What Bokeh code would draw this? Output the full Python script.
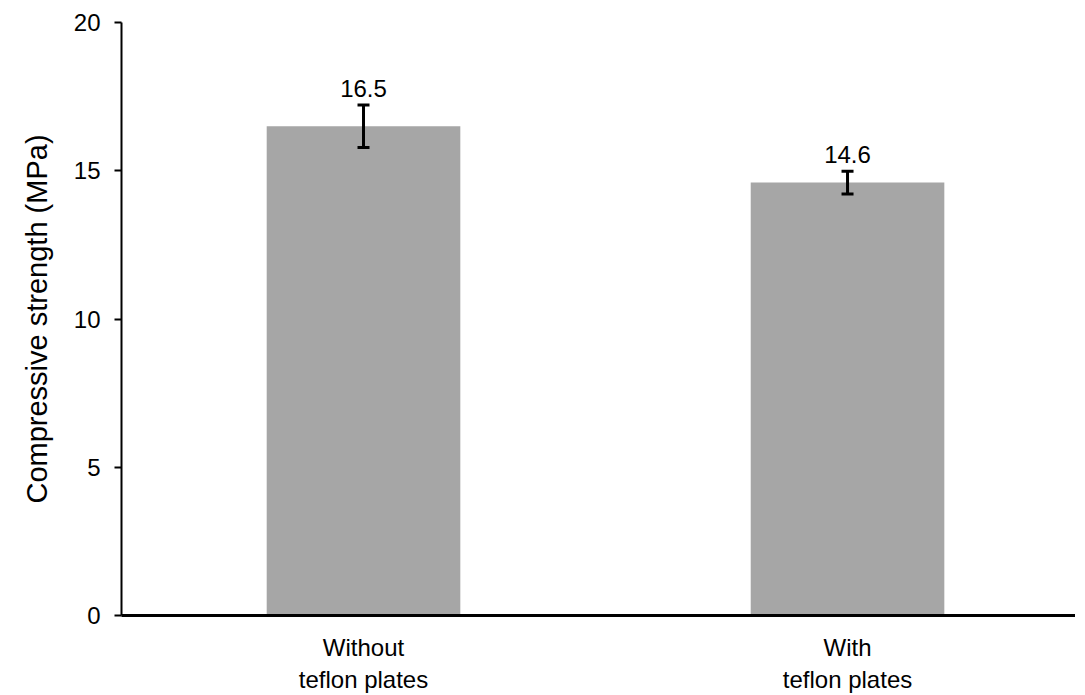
from bokeh.plotting import figure
from bokeh.models import ColumnDataSource, Range1d, FixedTicker, Whisker, TeeHead
from bokeh.embed import file_html
from bokeh.resources import INLINE
from bokeh.core.properties import value

categories = ["Without\nteflon plates", "With\nteflon plates"]
strength = [16.5, 14.6]
error = [0.72, 0.38]
value_labels = ["16.5", "14.6"]
y_ticks = [0, 5, 10, 15, 20]

xpos = [i + 0.5 for i in range(len(categories))]
src = ColumnDataSource(dict(
    x=xpos, top=strength,
    upper=[v + e for v, e in zip(strength, error)],
    lower=[v - e for v, e in zip(strength, error)],
    lab=value_labels,
))

FONT = "Liberation Sans"

p = figure(width=1075, height=695, output_backend="svg", toolbar_location=None,
           x_range=Range1d(0, 1.971), y_range=Range1d(0, 20),
           min_border_left=121, min_border_right=0, min_border_top=22, min_border_bottom=80)
p.outline_line_color = None
p.grid.visible = False
p.background_fill_color = "white"
p.border_fill_color = "white"

p.vbar(x="x", top="top", width=0.40, bottom=0, source=src, fill_color="#A6A6A6", line_color=None)

w = Whisker(base="x", upper="upper", lower="lower", source=src, line_color="black", line_width=3,
            level="overlay",
            upper_head=TeeHead(size=12, line_width=3, line_color="black"),
            lower_head=TeeHead(size=12, line_width=3, line_color="black"))
p.add_layout(w)

p.text(x="x", y="upper", text="lab", source=src, text_align="center", text_baseline="bottom",
       y_offset=-8, text_font=value(FONT), text_font_size="24px", text_color="black")

# y axis
p.yaxis.ticker = FixedTicker(ticks=y_ticks)
p.yaxis.axis_line_width = 2
p.yaxis.axis_line_color = "black"
p.yaxis.major_tick_out = 7
p.yaxis.major_tick_in = 0
p.yaxis.major_tick_line_width = 2
p.yaxis.minor_tick_line_color = None
p.yaxis.major_label_text_font = FONT
p.yaxis.major_label_text_font_size = "24px"
p.yaxis.major_label_text_color = "black"
p.yaxis.major_label_standoff = 14
p.yaxis.axis_label = "Compressive strength (MPa)"
p.yaxis.axis_label_text_font = FONT
p.yaxis.axis_label_text_font_size = "29px"
p.yaxis.axis_label_text_font_style = "normal"
p.yaxis.axis_label_text_color = "black"
p.yaxis.axis_label_standoff = 18

# x axis
p.xaxis.ticker = FixedTicker(ticks=xpos)
p.xaxis.major_label_overrides = {x: c for x, c in zip(xpos, categories)}
p.xaxis.axis_line_width = 3
p.xaxis.axis_line_color = "black"
p.xaxis.major_tick_line_color = None
p.xaxis.minor_tick_line_color = None
p.xaxis.major_label_text_font = FONT
p.xaxis.major_label_text_font_size = "24px"
p.xaxis.major_label_text_color = "black"
p.xaxis.major_label_standoff = 12

open("out.html", "w").write(file_html(p, INLINE))
